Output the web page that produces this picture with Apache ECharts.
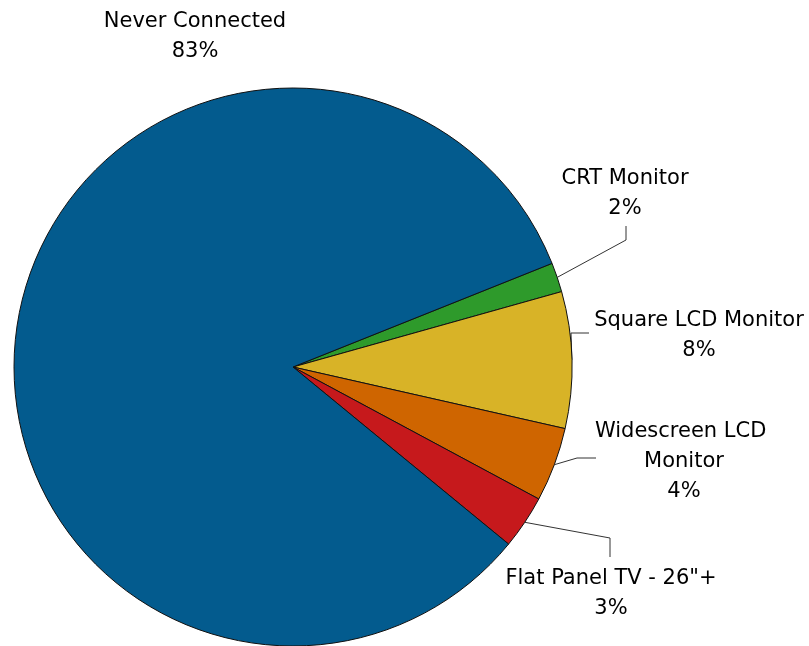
<!DOCTYPE html>
<html>
<head>
<meta charset="utf-8">
<script src="https://cdn.jsdelivr.net/npm/echarts@6/dist/echarts.min.js"></script>
<style>
html,body{margin:0;padding:0;background:#fff;}
#chart{width:809px;height:646px;}
</style>
</head>
<body>
<div id="chart"></div>
<script>
// Data (clockwise order starting from the CRT slice)
var categories = ['CRT Monitor', 'Square LCD Monitor', 'Widescreen LCD Monitor', 'Flat Panel TV - 26"+', 'Never Connected'];
var shares = [1.7, 7.9, 4.3, 3.1, 83.0];
var colors = ['#2e9a2b', '#d8b327', '#cf6500', '#c6191c', '#035b8e'];

// Label layout (positions of label blocks and bends of their leader lines)
var labelSpots = [
  {x: 625, y: 194, bend: [[626, 240], [626, 226]]},
  {x: 699, y: 336, bend: [[571, 333], [589, 333]]},
  {x: 684, y: 462, bend: [[577, 458], [596, 458]]},
  {x: 611, y: 594, bend: [[610, 538], [610, 557]]},
  {x: 195, y: 37, bend: null}
];

var chart = echarts.init(document.getElementById('chart'));
var data = categories.map(function (c, i) {
  var item = {name: c, value: shares[i], itemStyle: {color: colors[i]}};
  if (c === 'Widescreen LCD Monitor') {
    item.label = {width: 185, overflow: 'break'};
  }
  if (labelSpots[i].bend === null) {
    item.labelLine = {show: false};
  }
  return item;
});

chart.setOption({
  animation: false,
  backgroundColor: '#ffffff',
  series: [{
    type: 'pie',
    center: [293, 367],
    radius: 279,
    startAngle: 21.8,
    clockwise: true,
    percentPrecision: 0,
    avoidLabelOverlap: false,
    data: data,
    itemStyle: {borderColor: '#111', borderWidth: 1},
    label: {
      show: true,
      position: 'outside',
      formatter: '{b}\n{d}%',
      fontFamily: 'DejaVu Sans',
      fontSize: 21,
      lineHeight: 30,
      color: '#000',
      align: 'center'
    },
    labelLine: {
      show: true,
      length: 10,
      length2: 10,
      smooth: false,
      lineStyle: {color: '#333', width: 1}
    },
    labelLayout: function (params) {
      var spot = labelSpots[params.dataIndex];
      var out = {x: spot.x, y: spot.y, align: 'center', verticalAlign: 'middle'};
      if (spot.bend && params.labelLinePoints) {
        var p0 = params.labelLinePoints[0];
        out.labelLinePoints = [[p0[0], p0[1]], spot.bend[0], spot.bend[1]];
      }
      return out;
    }
  }]
});
</script>
</body>
</html>
